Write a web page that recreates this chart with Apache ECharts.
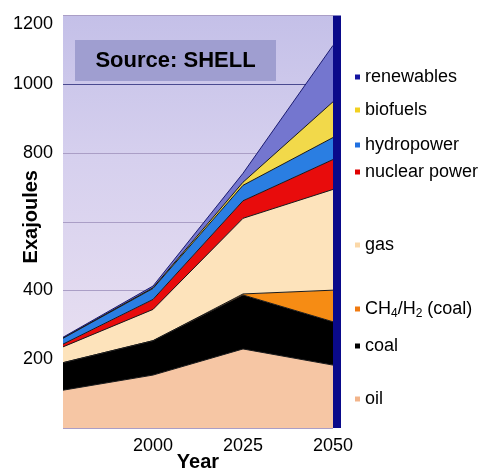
<!DOCTYPE html>
<html>
<head>
<meta charset="utf-8">
<script src="https://cdn.jsdelivr.net/npm/echarts@6/dist/echarts.min.js"></script>
<style>
html,body{margin:0;padding:0;background:#fff;}
#chart{width:478px;height:471px;}
</style>
</head>
<body>
<div id="chart"></div>
<script>
// ---- data (Exajoules) ----
const years = ['1975', '2000', '2025', '2050'];
const xTickLabels = ['', '2000', '2025', '2050'];
const yTickLabels = ['', '200', '400', '', '800', '1000', '1200'];
const oil = [110, 154, 230, 183];
const coal = [80, 100, 157, 126];
const ch4h2 = [0, 0, 3, 92];
const gas = [46, 91, 220, 293];
const nuclear = [8, 29, 51, 87];
const hydro = [17, 32, 45, 64];
const biofuels = [1, 2, 9, 104];
const renewables = [2, 5, 26, 164];

const FONT = 'Liberation Sans, Arial, sans-serif';

const seriesDefs = [
  {name: 'oil', data: oil, color: '#f6c6a4', legendColor: '#f2b48a', legendY: 396},
  {name: 'coal', data: coal, color: '#000000', legendColor: '#000000', legendY: 343},
  {name: 'CH4/H2 (coal)', data: ch4h2, color: '#f68c14', legendColor: '#f07a10', legendY: 306},
  {name: 'gas', data: gas, color: '#fde3bb', legendColor: '#fbd8a8', legendY: 242},
  {name: 'nuclear power', data: nuclear, color: '#e80c0c', legendColor: '#e00000', legendY: 169},
  {name: 'hydropower', data: hydro, color: '#2a7ee2', legendColor: '#2070e0', legendY: 142},
  {name: 'biofuels', data: biofuels, color: '#f2d94a', legendColor: '#f2d020', legendY: 107},
  {name: 'renewables', data: renewables, color: '#7476cf', legendColor: '#1414a0', legendY: 74}
];

const series = seriesDefs.map((s, i) => ({
  name: s.name,
  type: 'line',
  stack: 'total',
  data: s.data,
  symbol: 'none',
  smooth: false,
  itemStyle: {color: s.color},
  lineStyle: {color: i === 7 ? '#1a1a70' : '#1a1a1a', width: 1},
  areaStyle: {color: s.color, opacity: 1},
  emphasis: {disabled: true},
  z: 2,
  markLine: i === 7 ? {
    silent: true, symbol: 'none', label: {show: false},
    lineStyle: {color: '#4a4a90', type: 'solid', width: 1},
    data: [{yAxis: 1000}],
    z: 1
  } : undefined
}));

const legends = seriesDefs.map(s => ({
  data: [{name: s.name, itemStyle: {color: s.legendColor}}],
  left: 350,
  top: s.legendY - 11,
  icon: 'rect',
  itemWidth: 5,
  itemHeight: 5,
  selectedMode: false,
  formatter: function (name) {
    if (name === 'CH4/H2 (coal)') return '{n|CH}{s|4}{n|/H}{s|2}{n| (coal)}';
    return name;
  },
  textStyle: {
    fontFamily: FONT, fontSize: 18, color: '#000',
    rich: {
      n: {fontFamily: FONT, fontSize: 18, color: '#000'},
      s: {fontFamily: FONT, fontSize: 12, color: '#000', padding: [10, 0, 0, 0]}
    }
  }
}));

const chart = echarts.init(document.getElementById('chart'), null, {renderer: 'canvas'});
chart.setOption({
  animation: false,
  backgroundColor: '#ffffff',
  grid: {
    left: 63, right: 145, top: 15.5, bottom: 43,
    containLabel: false,
    outerBoundsMode: 'none',
    show: true, borderWidth: 0,
    backgroundColor: {
      type: 'linear', x: 0, y: 0, x2: 0, y2: 1,
      colorStops: [
        {offset: 0, color: '#c4c0e8'},
        {offset: 0.35, color: '#d6d0ee'},
        {offset: 1, color: '#eee4f2'}
      ]
    }
  },
  legend: legends,
  xAxis: {
    type: 'category',
    data: years,
    boundaryGap: false,
    axisLine: {show: false},
    axisTick: {show: false},
    splitLine: {show: false},
    axisLabel: {
      fontFamily: FONT, fontSize: 18, color: '#000', margin: 9,
      formatter: (v, i) => xTickLabels[i]
    },
    name: 'Year',
    nameLocation: 'middle',
    nameGap: 24,
    nameMoveOverlap: false,
    nameTextStyle: {fontFamily: FONT, fontSize: 20, fontWeight: 'bold', color: '#000', verticalAlign: 'top'}
  },
  yAxis: [{
    type: 'value',
    min: 0, max: 1200, interval: 200,
    axisLine: {show: false},
    axisTick: {show: false},
    splitLine: {show: true, lineStyle: {color: '#aa9ec6', width: 1}},
    axisLabel: {
      fontFamily: FONT, fontSize: 18, color: '#000', margin: 10,
      verticalAlignMaxLabel: 'top',
      formatter: (v) => yTickLabels[Math.round(v / 200)]
    },
    name: 'Exajoules',
    nameLocation: 'middle',
    nameGap: 32,
    nameMoveOverlap: false,
    nameRotate: 90,
    nameTextStyle: {fontFamily: FONT, fontSize: 20, fontWeight: 'bold', color: '#000', verticalAlign: 'middle', padding: [0, 0, 0, 10]}
  }, {
    type: 'value',
    position: 'right',
    min: 0, max: 1200,
    offset: 4,
    axisLine: {show: true, lineStyle: {color: '#0a0a8a', width: 8, cap: 'butt'}},
    axisTick: {show: false},
    axisLabel: {show: false},
    splitLine: {show: false}
  }],
  graphic: [{
    type: 'group',
    left: 75, top: 40,
    z: 10,
    children: [{
      type: 'rect',
      shape: {x: 0, y: 0, width: 201, height: 41},
      style: {fill: '#9f9ed0'}
    }, {
      type: 'text',
      x: 100.5, y: 20.5,
      style: {
        text: 'Source: SHELL',
        fontFamily: FONT, fontSize: 22, fontWeight: 'bold',
        fill: '#000', align: 'center', verticalAlign: 'middle'
      }
    }]
  }],
  series: series
});
</script>
</body>
</html>
